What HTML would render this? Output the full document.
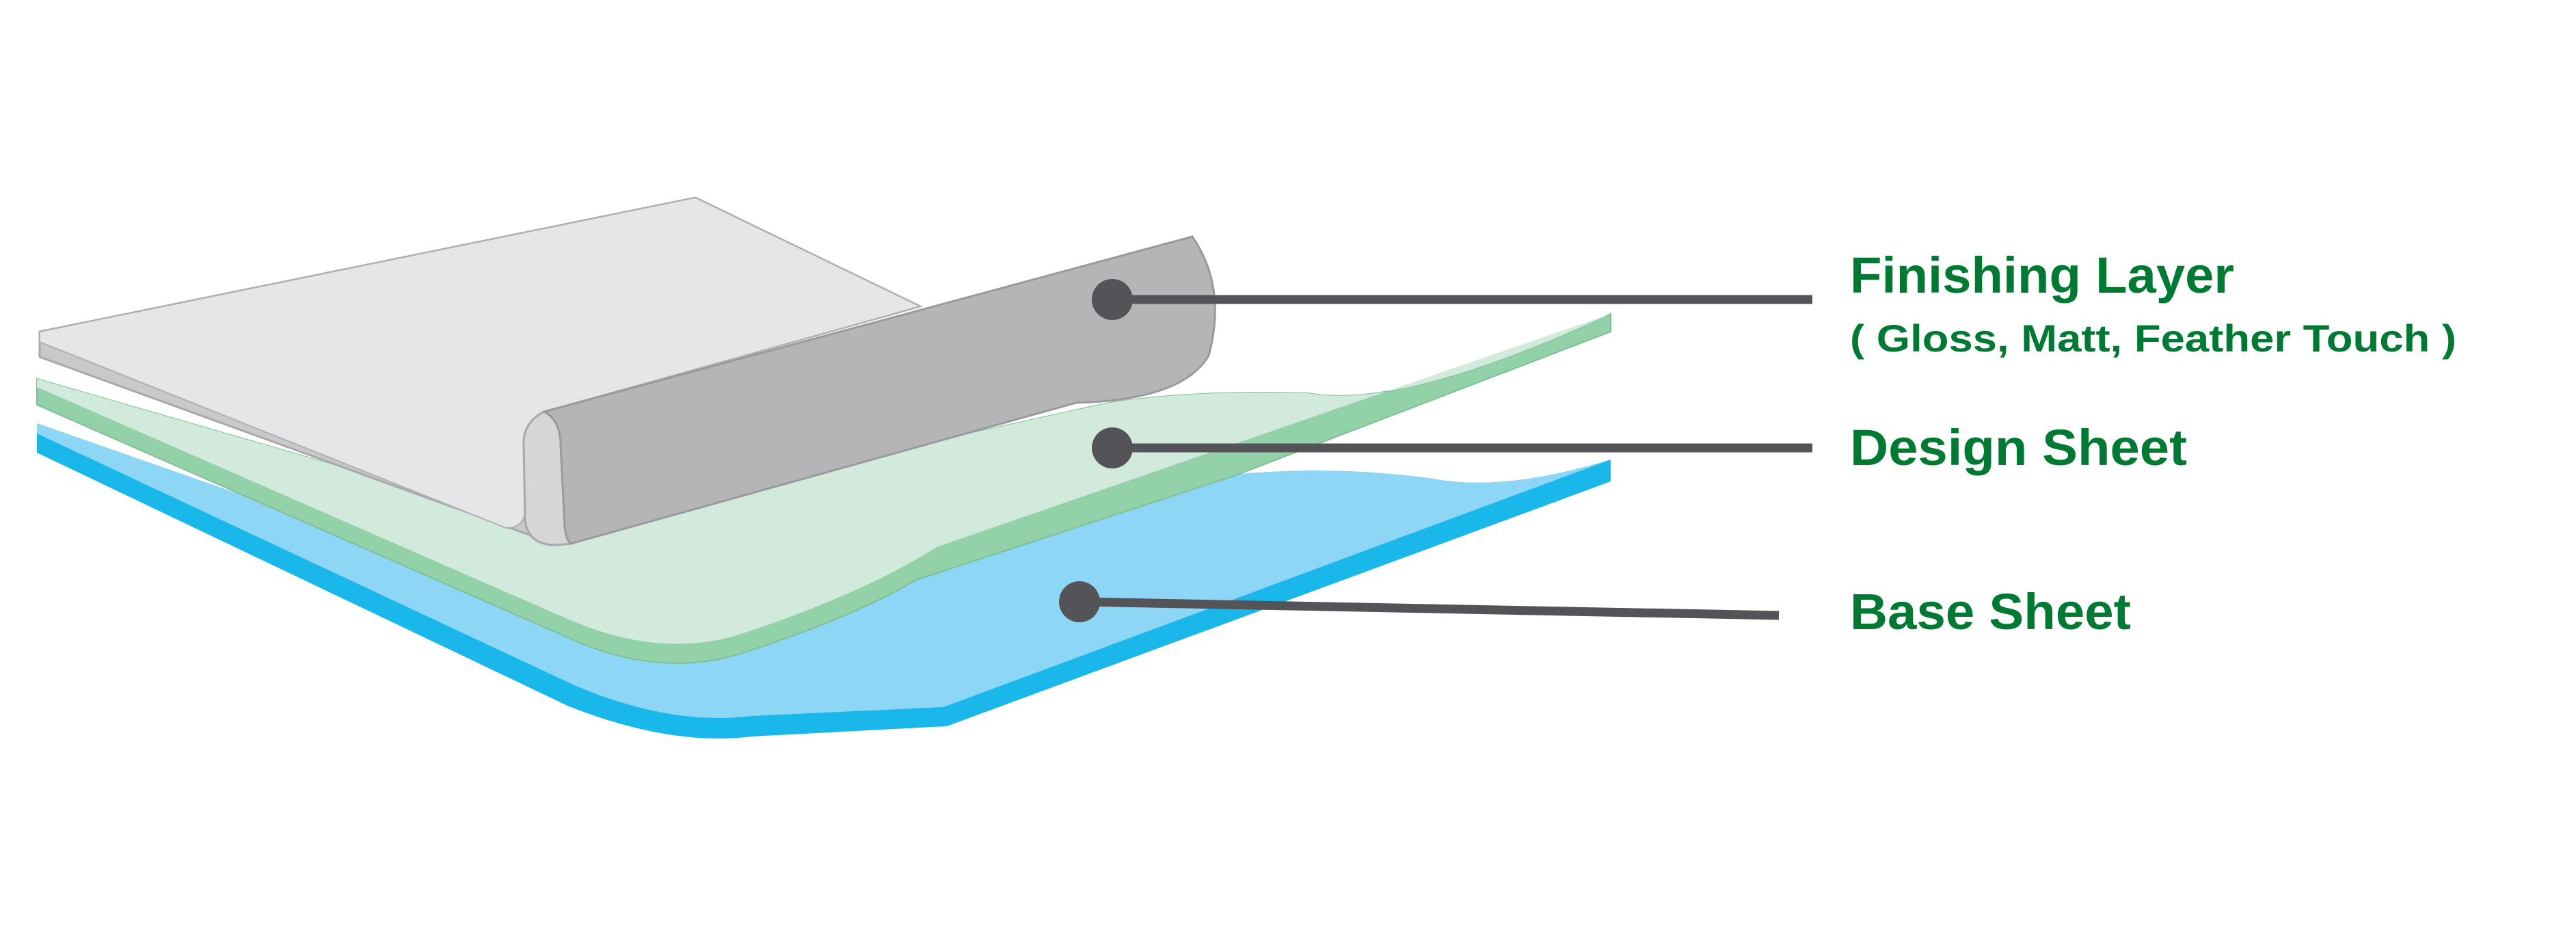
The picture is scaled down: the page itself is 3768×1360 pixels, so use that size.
<!DOCTYPE html>
<html><head><meta charset="utf-8"><style>
html,body{margin:0;padding:0;background:#fff}
svg{display:block}
</style></head><body>
<svg width="3768" height="1360" viewBox="0 0 3768 1360" xmlns="http://www.w3.org/2000/svg">
<rect width="3768" height="1360" fill="#fff"/>
<!-- Blue base sheet -->
<path d="M54,619 L54,662 L830,1032 Q980,1092 1100,1077 L1385,1062 L2356,704 L2356,672 Q2200,720 2096,700 Q1950,680 1805,694 L1331,846 L857,900 Z" fill="#1ab7ea"/>
<path d="M54,619 L54,634 L840,1002 Q980,1062 1100,1047 L1380,1034 L2356,672 Q2200,720 2096,700 Q1950,680 1805,694 L1331,846 L857,900 Z" fill="#8dd6f6"/>
<!-- Green design sheet -->
<path d="M54,554 L54,592 L830,932 Q960,992 1080,957 Q1250,902 1340,848 L1805,696 L2356,485 L2356,459 Q2050,600 1913,575 Q1750,570 1622,589 L800,770 Z" fill="#93d1a8" stroke="#7fbf95" stroke-width="2"/>
<path d="M54,554 L54,566 L830,905 Q960,962 1075,930 Q1260,870 1370,800 L2356,459 Q2050,600 1913,575 Q1750,570 1622,589 L800,770 Z" fill="#d2eadb"/>
<!-- Gray finishing sheet -->
<path d="M58,485 L1017,289 L1346,448 L796,602 C775,612 765,630 766,650 L768,760 Q772,798 815,797 L58,522 Z" fill="#c9c9cb" stroke="#a8a8aa" stroke-width="3"/>
<path d="M58,485 L1017,289 L1346,448 L796,602 C775,612 765,630 766,650 L768,745 Q768,772 740,772 L58,500 Z" fill="#e6e6e8" stroke="#b0b0b2" stroke-width="2"/>
<path d="M796,602 C775,612 765,630 766,650 L768,760 Q772,798 815,797 L835,795 Q828,790 826,770 L820,650 C820,628 812,610 796,602 Z" fill="#d6d6d8" stroke="#a8a8aa" stroke-width="3"/>
<path d="M796,602 L1744,346 Q1795,420 1768,520 Q1730,585 1574,589 L835,795 Q828,790 826,770 L820,650 C820,628 812,610 796,602 Z" fill="#b5b5b8" stroke="#9a9a9d" stroke-width="3"/>
<!-- Connectors -->
<g fill="#545458" stroke="#545458" stroke-width="13">
<line x1="1627" y1="438" x2="2651" y2="438"/>
<line x1="1627" y1="655" x2="2651" y2="655"/>
<line x1="1579" y1="880" x2="2602" y2="900"/>
<circle cx="1627" cy="438" r="30" stroke="none"/>
<circle cx="1627" cy="655" r="30" stroke="none"/>
<circle cx="1579" cy="880" r="30" stroke="none"/>
</g>
<!-- Labels -->
<g font-family="Liberation Sans, sans-serif" font-weight="bold" fill="#007a33">
<text x="2706" y="428" font-size="74" textLength="562" lengthAdjust="spacingAndGlyphs">Finishing Layer</text>
<text x="2706" y="514" font-size="56" textLength="887" lengthAdjust="spacingAndGlyphs">( Gloss, Matt, Feather Touch )</text>
<text x="2706" y="680" font-size="74" textLength="493" lengthAdjust="spacingAndGlyphs">Design Sheet</text>
<text x="2706" y="920" font-size="74" textLength="411" lengthAdjust="spacingAndGlyphs">Base Sheet</text>
</g>
</svg>
</body></html>
